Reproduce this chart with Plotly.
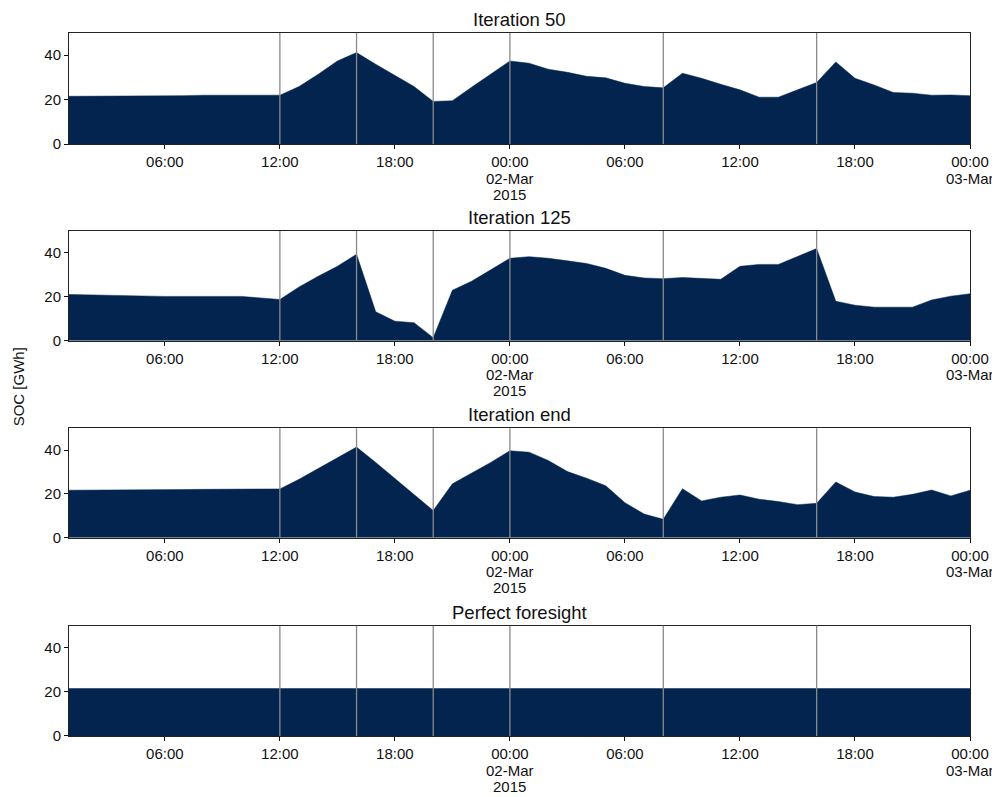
import pandas as pd
import plotly.graph_objects as go

# ---- data ----
times = pd.date_range("2015-03-01 01:00", "2015-03-03 00:00", freq="h")

titles = ["Iteration 50", "Iteration 125", "Iteration end", "Perfect foresight"]

iter_50 = [21.5, 21.5, 21.6, 21.6, 21.7, 21.8, 21.8, 22.0, 22.0, 22.0, 21.9, 22.0,
           25.9, 31.4, 37.4, 41.2, 35.9, 30.8, 25.9, 19.2, 19.5, 25.6, 31.4, 37.4,
           36.4, 33.7, 32.3, 30.5, 29.8, 27.4, 25.9, 25.3, 31.9, 29.6, 26.9, 24.4,
           21.1, 21.1, 24.4, 27.7, 37.0, 29.6, 26.6, 23.2, 22.9, 22.0, 22.1, 21.8]

iter_125 = [21.1, 20.9, 20.5, 20.3, 20.2, 20.2, 20.2, 20.2, 20.2, 20.2, 19.5, 18.8,
            24.5, 29.4, 33.9, 39.4, 13.2, 8.9, 8.2, 1.4, 23.0, 27.1, 32.3, 37.6,
            38.3, 37.6, 36.4, 35.2, 33.0, 29.8, 28.6, 28.3, 28.8, 28.3, 28.0, 33.9,
            34.8, 34.8, 38.5, 42.0, 18.0, 16.2, 15.3, 15.3, 15.3, 18.6, 20.3, 21.4]

iter_end = [21.7, 21.7, 21.8, 21.8, 21.9, 21.9, 22.0, 22.1, 22.2, 22.2, 22.3, 22.3,
            26.7, 31.5, 36.6, 41.4, 34.4, 27.0, 19.7, 12.4, 24.6, 29.5, 34.4, 39.7,
            39.1, 35.3, 30.2, 27.2, 23.7, 16.0, 10.8, 8.4, 22.4, 16.8, 18.5, 19.5,
            17.6, 16.5, 15.1, 15.7, 25.5, 20.9, 18.8, 18.5, 19.8, 21.8, 19.1, 21.7]

perfect = [21.5, 21.5, 21.5, 21.5, 21.5, 21.5, 21.5, 21.5, 21.5, 21.5, 21.5, 21.5,
           21.5, 21.5, 21.5, 21.5, 21.5, 21.5, 21.5, 21.5, 21.5, 21.5, 21.5, 21.5,
           21.5, 21.5, 21.5, 21.5, 21.5, 21.5, 21.5, 21.5, 21.5, 21.5, 21.5, 21.5,
           21.5, 21.5, 21.5, 21.5, 21.5, 21.5, 21.5, 21.5, 21.5, 21.5, 21.5, 21.5]

series = [iter_50, iter_125, iter_end, perfect]

vlines = ["2015-03-01 12:00", "2015-03-01 16:00", "2015-03-01 20:00",
          "2015-03-02 00:00", "2015-03-02 08:00", "2015-03-02 16:00"]

tick_vals = ["2015-03-01 06:00", "2015-03-01 12:00", "2015-03-01 18:00",
             "2015-03-02 00:00", "2015-03-02 06:00", "2015-03-02 12:00",
             "2015-03-02 18:00", "2015-03-03 00:00"]
tick_text = ["06:00", "12:00", "18:00", "00:00",
             "06:00", "12:00", "18:00", "00:00"]
# second / third tick-label lines: (position, line-2 text, line-3 text)
date_labels = [("2015-03-02 00:00", "02-Mar", "2015"),
               ("2015-03-03 00:00", "03-Mar", "")]

y_ticks = [0, 20, 40]

# ---- figure ----
FILL = "#02244f"
FONT = "Liberation Sans, Arial, sans-serif"
TXT = "#111"
domains = [[0.842, 1.0], [0.5623, 0.7183], [0.2821, 0.4377], [0.0, 0.1569]]

fig = go.Figure()
layout = dict(
    width=992, height=789,
    margin=dict(l=61, r=30, t=25, b=61, autoexpand=False),
    paper_bgcolor="white", plot_bgcolor="white",
    showlegend=False,
    font=dict(family=FONT, size=15, color=TXT),
)
annotations = []
shapes = []
for i, (vals, title) in enumerate(zip(series, titles)):
    n = "" if i == 0 else str(i + 1)
    xa, ya = "x" + n, "y" + n
    fig.add_trace(go.Scatter(
        x=times, y=vals, xaxis=xa, yaxis=ya,
        mode="lines", line=dict(color=FILL, width=0.5),
        fill="tozeroy", fillcolor=FILL, hoverinfo="x+y",
    ))
    layout["xaxis" + n] = dict(
        domain=[0, 1], anchor=ya, type="date",
        range=[times[0], times[-1]],
        tickmode="array", tickvals=tick_vals, ticktext=tick_text,
        ticks="outside", ticklen=4, tickwidth=1, tickcolor=TXT,
        showline=True, mirror=True, linecolor="#222", linewidth=1,
        showgrid=False, zeroline=False, automargin=False,
        tickfont=dict(size=15, color=TXT),
    )
    layout["yaxis" + n] = dict(
        domain=domains[i], anchor=xa, range=[0, 50],
        tickmode="array", tickvals=y_ticks,
        ticks="outside", ticklen=4, tickwidth=1, tickcolor=TXT,
        showline=True, mirror=True, linecolor="#222", linewidth=1,
        showgrid=False, zeroline=False, automargin=False,
        tickfont=dict(size=15, color=TXT),
    )
    annotations.append(dict(
        text=title, xref="paper", yref="paper", x=0.5, y=domains[i][1],
        xanchor="center", yanchor="bottom", yshift=1, showarrow=False,
        font=dict(size=18.5, color=TXT, family=FONT),
    ))
    for pos, l2, l3 in date_labels:
        for txt, shift in ((l2, -34), (l3, -50)):
            if txt:
                annotations.append(dict(
                    text=txt, xref=xa, yref=ya + " domain", x=pos, y=0,
                    xanchor="center", yanchor="middle", yshift=shift,
                    showarrow=False, font=dict(size=15, color=TXT, family=FONT),
                ))
    for v in vlines:
        shapes.append(dict(
            type="line", xref=xa, yref=ya + " domain", x0=v, x1=v, y0=0, y1=1,
            line=dict(color="#8a8a8a", width=1.3), layer="above",
        ))

annotations.append(dict(
    text="SOC [GWh]", xref="paper", yref="paper", x=-0.0566, y=0.496,
    xanchor="center", yanchor="middle", textangle=-90, showarrow=False,
    font=dict(size=15, color=TXT, family=FONT),
))
layout["annotations"] = annotations
layout["shapes"] = shapes
fig.update_layout(**layout)

fig.write_html("out.html")
